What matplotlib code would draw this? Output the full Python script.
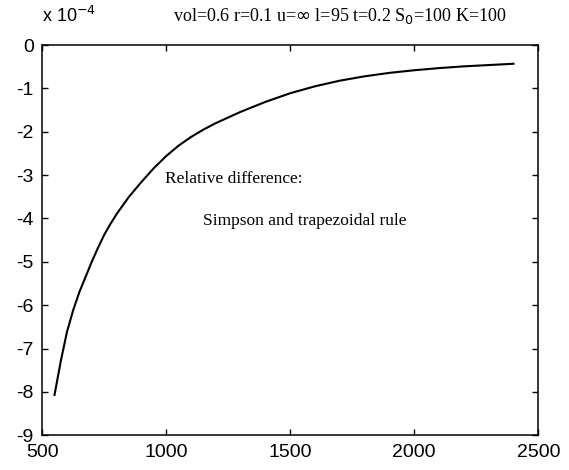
import matplotlib
matplotlib.use("Agg")
import matplotlib.pyplot as plt

plt.rcParams['axes.unicode_minus'] = False
plt.rcParams['font.family'] = ['Liberation Sans', 'DejaVu Sans']

# values (y in units of 1e-4)
n_steps = [550, 575, 600, 625, 650, 700, 725, 750, 775, 800, 850, 900, 950, 1000,
           1050, 1100, 1150, 1200, 1300, 1400, 1500, 1600, 1700, 1800, 1900,
           2000, 2100, 2200, 2300, 2400]
rel_diff = [-8.07, -7.30, -6.62, -6.12, -5.70, -5.00, -4.68, -4.38, -4.13, -3.90,
            -3.50, -3.16, -2.84, -2.56, -2.32, -2.12, -1.95, -1.80, -1.54, -1.31,
            -1.11, -0.95, -0.82, -0.72, -0.64, -0.58, -0.53, -0.49, -0.46, -0.43]

xticks = [500, 1000, 1500, 2000, 2500]
yticks = [0, -1, -2, -3, -4, -5, -6, -7, -8, -9]

fig = plt.figure(figsize=(5.69, 4.70), dpi=100)
ax = fig.add_axes([0.074, 0.074, 0.872, 0.83])

ax.plot(n_steps, rel_diff, color='black', linewidth=1.5)

ax.set_xlim(500, 2500)
ax.set_ylim(-9, 0)
ax.set_xticks(xticks)
ax.set_yticks(yticks)
ax.tick_params(direction='in', length=4, width=1, top=True, right=True,
               labelsize=14, pad=6)
for s in ax.spines.values():
    s.set_linewidth(1.1)

# exponent label like matlab
fig.text(0.074, 0.945, r'x 10$^{-4}$', fontsize=13, ha='left', va='bottom')

serif = ['Liberation Serif', 'DejaVu Serif']
fig.text(0.597, 0.945, r'vol=0.6 r=0.1 u=$\infty$ l=95 t=0.2 S$_0$=100 K=100',
         fontsize=13, family=serif, ha='center', va='bottom')

ax.text(995, -3.09, 'Relative difference:', fontsize=12.5, family=serif,
        ha='left', va='center')
ax.text(1150, -4.06, 'Simpson and trapezoidal rule', fontsize=12.5, family=serif,
        ha='left', va='center')

fig.savefig('out.png', dpi=100)
